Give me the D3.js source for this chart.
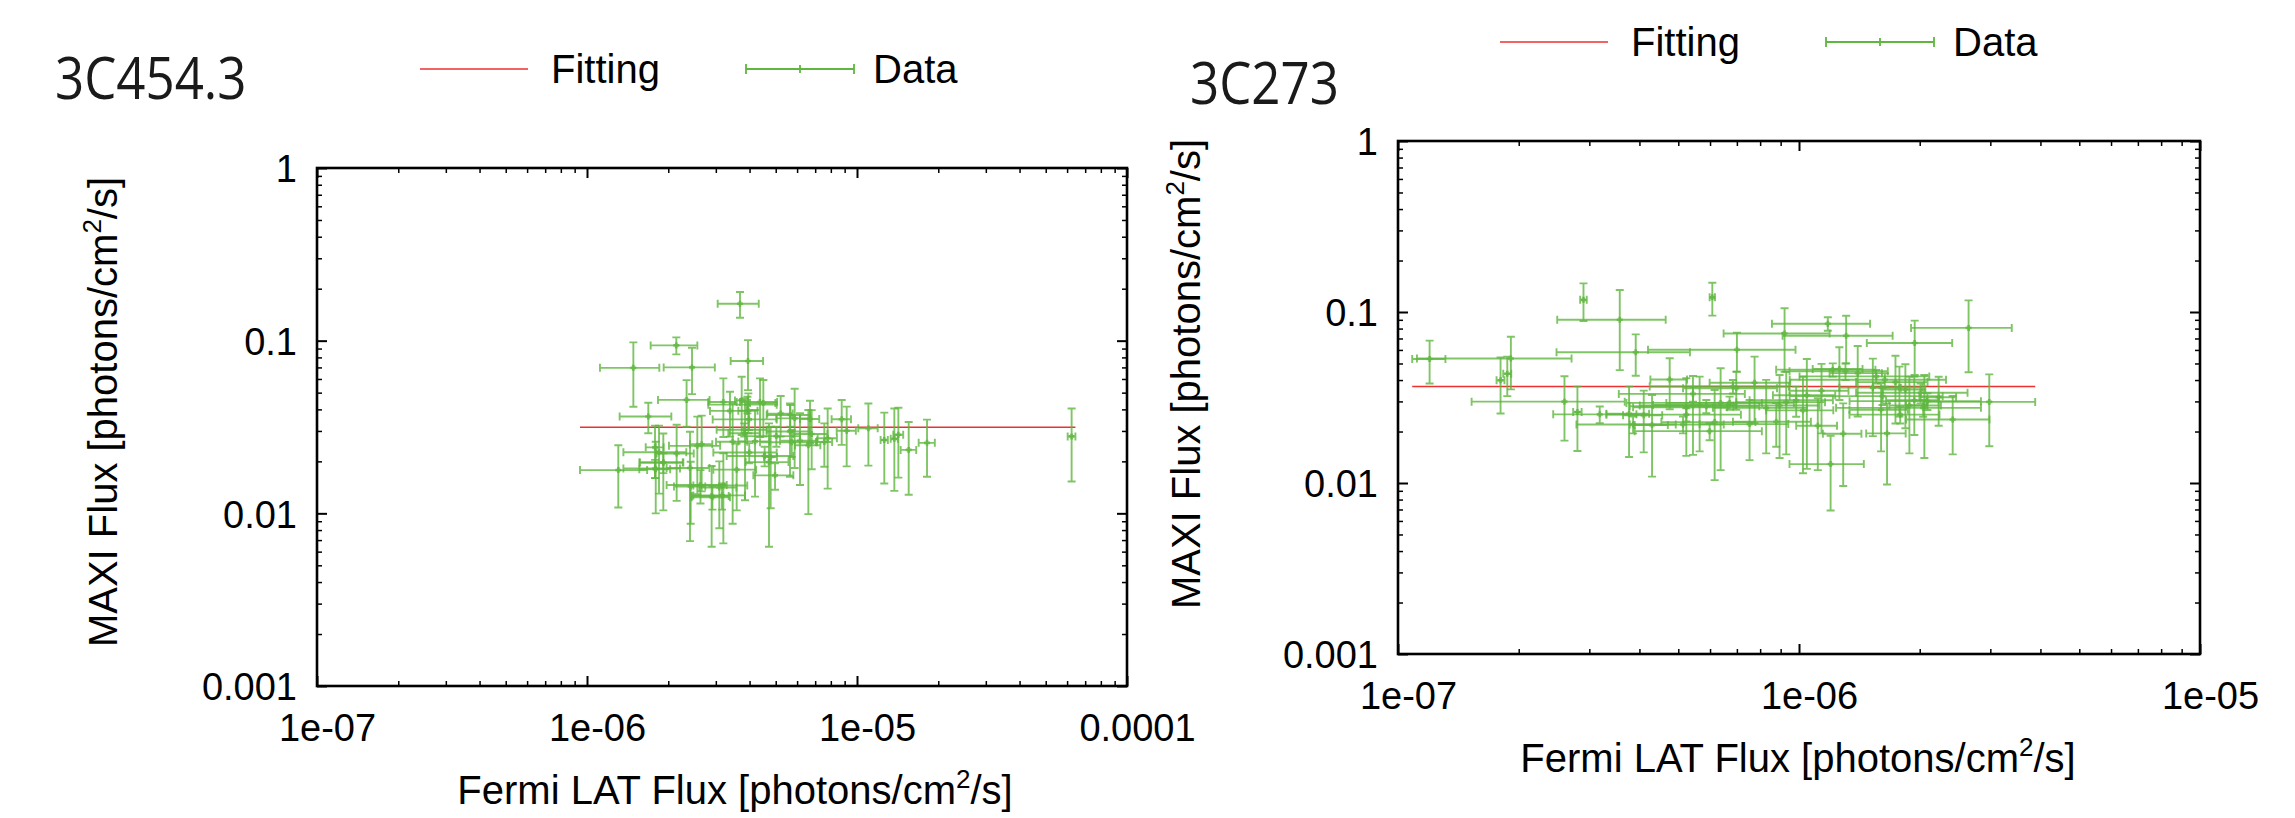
<!DOCTYPE html>
<html><head><meta charset="utf-8">
<script src="https://cdn.jsdelivr.net/npm/d3@7"></script>
<style>body{margin:0;background:#fff}svg{display:block}</style>
</head><body>
<svg id="c" width="2295" height="818"></svg>
<script>
// ---------- DATA : 3C454.3 (Fermi LAT flux vs MAXI flux, photons/cm2/s) ----------
const lX = [1.485e-6,1.687e-6,1.306e-6,1.786e-6,1.848e-6,1.797e-6,1.917e-6,2.148e-6,2.338e-6,2.449e-6,2.142e-6,2.407e-6,2.421e-6,2.562e-6,2.659e-6,2.895e-6,3.091e-6,3.199e-6,3.199e-6,3.385e-6,3.463e-6,3.584e-6,3.740e-6,3.848e-6,3.958e-6,4.191e-6,4.373e-6,4.499e-6,4.721e-6,4.789e-6,5.215e-6,5.647e-6,5.875e-6,6.150e-6,6.605e-6,6.698e-6,6.794e-6,7.568e-6,7.787e-6,8.777e-6,9.158e-6,3.687e-6,3.947e-6,1.102e-5,1.262e-5,1.375e-5,1.423e-5,1.554e-5,1.817e-5,6.235e-5,3.981e-6,3.928e-6,3.825e-6,5.027e-6,3.989e-6,4.550e-6,2.632e-6,3.162e-6,4.971e-6,5.731e-6,1.787e-6,1.918e-6,5.664e-6,2.914e-6];
const lXerr = [0.368e-6,0.366e-6,0.364e-6,0.136e-6,0.484e-6,0.235e-6,0.346e-6,0.337e-6,0.506e-6,0.526e-6,0.421e-6,0.435e-6,0.321e-6,0.550e-6,0.252e-6,0.453e-6,0.485e-6,0.385e-6,0.723e-6,0.530e-6,0.458e-6,0.647e-6,0.208e-6,0.510e-6,0.323e-6,0.556e-6,0.686e-6,0.484e-6,0.852e-6,0.265e-6,0.560e-6,1.018e-6,0.850e-6,0.964e-6,0.712e-6,0.548e-6,0.984e-6,0.520e-6,0.637e-6,0.723e-6,0.746e-6,0.639e-6,0.542e-6,0.91e-6,0.39e-6,0.42e-6,0.60e-6,1.03e-6,1.25e-6,2.06e-6,1.060e-6,1.114e-6,0.804e-6,1.124e-6,1.052e-6,1.260e-6,0.660e-6,0.686e-6,0.840e-6,1.358e-6,0.423e-6,0.356e-6,1.035e-6,0.472e-6];
const lY = [0.0696,0.0364,0.0178,0.0241,0.0226,0.0180,0.0197,0.0222,0.0454,0.0700,0.0939,0.0183,0.0143,0.0246,0.0251,0.0126,0.0141,0.0441,0.0145,0.0392,0.0260,0.0179,0.0451,0.0291,0.0393,0.0261,0.0441,0.0435,0.0198,0.0212,0.0378,0.0298,0.0355,0.0263,0.0248,0.0352,0.0288,0.0259,0.0272,0.0351,0.0301,0.1635,0.0762,0.0311,0.0266,0.0270,0.0285,0.0233,0.0256,0.0279,0.0350,0.0426,0.0305,0.0280,0.0225,0.0215,0.0146,0.0127,0.0166,0.0258,0.0182,0.0197,0.0371,0.0124];
const lYerr = [0.0282,0.0073,0.0070,0.0081,0.0096,0.0080,0.0093,0.0104,0.0137,0.0210,0.0106,0.0114,0.0056,0.0117,0.0117,0.0062,0.0059,0.0164,0.0078,0.0114,0.0173,0.0075,0.0167,0.0172,0.0102,0.0136,0.0164,0.0157,0.0134,0.0105,0.0100,0.0135,0.0172,0.0117,0.0149,0.0097,0.0108,0.0073,0.0133,0.0102,0.0114,0.0277,0.0245,0.0122,0.0117,0.0135,0.0124,0.0105,0.0093,0.0126,0.0046,0.0047,0.0027,0.0037,0.0030,0.0028,0.0032,0.0022,0.0029,0.0046,0.0022,0.0026,0.0053,0.0019];
const lFit = 0.0315;

// ---------- DATA : 3C273 ----------
const rX = [1.199e-7,1.912e-7,1.802e-7,1.873e-7,2.901e-7,3.573e-7,3.916e-7,6.079e-7,7.002e-7,9.205e-7,1.180e-6,1.311e-6,1.943e-6,2.648e-6,2.982e-6,2.417e-6,1.199e-6,1.289e-6,1.658e-6,1.740e-6,2.601e-7,2.802e-7,3.857e-7,3.769e-7,4.100e-7,4.301e-7,4.759e-7,5.236e-7,5.440e-7,5.652e-7,6.161e-7,6.376e-7,6.976e-7,7.529e-7,7.748e-7,8.283e-7,8.944e-7,9.293e-7,8.775e-7,1.023e-6,1.046e-6,1.114e-6,1.138e-6,1.261e-6,1.401e-6,1.528e-6,1.602e-6,1.780e-6,1.842e-6,1.885e-6,1.939e-6,2.054e-6,2.230e-6,9.840e-7,3.185e-7,5.986e-7,5.440e-7,6.713e-7,
  2.010e-6,2.090e-6,2.040e-6,1.788e-6,1.615e-6,1.637e-6,1.306e-6,1.558e-6,5.872e-7,5.236e-7,6.843e-7,5.138e-7,1.214e-6];
const rXerr = [0.114e-7,0.797e-7,0.041e-7,0.043e-7,0.055e-7,1.078e-7,1.431e-7,0.093e-7,2.800e-7,2.719e-7,3.24e-7,4.01e-7,4.67e-7,7.45e-7,9.0e-7,5.68e-7,2.52e-7,1.42e-7,1.87e-7,3.52e-7,1.075e-7,0.068e-7,1.071e-7,0.460e-7,0.459e-7,0.408e-7,0.499e-7,1.379e-7,1.432e-7,1.326e-7,1.624e-7,1.707e-7,1.838e-7,1.877e-7,1.762e-7,2.181e-7,2.294e-7,2.317e-7,1.932e-7,1.947e-7,1.852e-7,1.30e-7,1.908e-7,1.79e-7,2.09e-7,2.67e-7,2.66e-7,2.52e-7,2.24e-7,2.05e-7,2.90e-7,2.05e-7,2.34e-7,2.31e-7,0.747e-7,2.093e-7,1.887e-7,3.0e-7,
  6.22e-7,7.53e-7,8.03e-7,4.52e-7,6.67e-7,6.89e-7,3.59e-7,5.55e-7,2.088e-7,1.927e-7,2.60e-7,1.354e-7,3.37e-7];
const rY = [0.0531,0.0535,0.0399,0.0435,0.1178,0.0901,0.0582,0.1218,0.0602,0.0749,0.0854,0.0726,0.0659,0.0807,0.0298,0.0235,0.0129,0.0194,0.0195,0.0389,0.0299,0.0260,0.0220,0.0254,0.0249,0.0218,0.0403,0.0277,0.0284,0.0286,0.0227,0.0294,0.0358,0.0221,0.0386,0.0275,0.0284,0.0297,0.0228,0.0266,0.0326,0.0216,0.0346,0.0464,0.0439,0.0361,0.0268,0.0362,0.0352,0.0284,0.0305,0.0284,0.0317,0.0305,0.0252,0.0201,0.0332,0.0294,
  0.0337,0.0301,0.0275,0.0251,0.0322,0.0402,0.0450,0.0420,0.0281,0.0251,0.0367,0.0220,0.0460];
const rYerr = [0.0149,0.0182,0.0144,0.0113,0.0292,0.0444,0.0158,0.0266,0.0155,0.0302,0.0077,0.0225,0.0231,0.0363,0.0134,0.0088,0.0060,0.0098,0.0097,0.0166,0.0122,0.0106,0.0025,0.0112,0.0098,0.0109,0.0133,0.0133,0.0138,0.0133,0.0123,0.0175,0.0090,0.0085,0.0162,0.0126,0.0144,0.0150,0.0065,0.0152,0.0205,0.0097,0.0151,0.0158,0.0194,0.0173,0.0115,0.0117,0.0143,0.0135,0.0114,0.0144,0.0101,0.0061,0.0028,0.0023,0.0033,0.0026,
  0.0045,0.0034,0.0031,0.0028,0.0036,0.0036,0.0050,0.0038,0.0025,0.0022,0.0033,0.0025,0.0041];
const rFit = 0.0367;

// ---------- TICKS / TEXT ----------
const yTicks = [0.001, 0.01, 0.1, 1];
const yTickLabels = ["0.001", "0.01", "0.1", "1"];
const lXTicks = [1e-7, 1e-6, 1e-5, 1e-4];
const lXTickLabels = ["1e-07", "1e-06", "1e-05", "0.0001"];
const rXTicks = [1e-7, 1e-6, 1e-5];
const rXTickLabels = ["1e-07", "1e-06", "1e-05"];
const legendLabels = ["Fitting", "Data"];
const titles = ["3C454.3", "3C273"];

// ---------- DRAW ----------
const GREEN = "#5fb740", RED = "#ee3030";
const svg = d3.select("#c");
const FONT = "'Liberation Sans', Arial, sans-serif";

function minors(lo, hi) {
  const out = [];
  for (let e = Math.round(Math.log10(lo)); e < Math.round(Math.log10(hi)); e++)
    for (let k = 2; k <= 9; k++) out.push(k * Math.pow(10, e));
  return out;
}

function panel(o) {
  const g = svg.append("g");
  const x = d3.scaleLog().domain(o.xDomain).range([o.x0, o.x1]);
  const y = d3.scaleLog().domain([0.001, 1]).range([o.y1, o.y0]);
  const rows = o.xs.map((v, i) => ({x: v, xe: o.xe[i], y: o.ys[i], ye: o.ye[i]}));

  // fit line over the data extent
  const xmin = d3.min(rows, d => d.x - d.xe), xmax = d3.max(rows, d => d.x + d.xe);
  g.append("line").attr("x1", x(xmin)).attr("x2", x(xmax))
    .attr("y1", y(o.fit)).attr("y2", y(o.fit))
    .attr("stroke", RED).attr("stroke-width", 1.6);

  // error bars
  const cap = 4;
  const eb = g.append("g").attr("stroke", GREEN).attr("stroke-width", 1.9)
    .attr("stroke-opacity", 0.8).attr("fill", "none");
  rows.forEach(d => {
    const cx = x(d.x), cy = y(d.y);
    const xl = x(d.x - d.xe), xr = x(d.x + d.xe);
    const yt = y(d.y + d.ye), yb = y(d.y - d.ye);
    const p = `M${xl},${cy}H${xr}M${xl},${cy-cap}V${cy+cap}M${xr},${cy-cap}V${cy+cap}` +
              `M${cx},${yt}V${yb}M${cx-cap},${yt}H${cx+cap}M${cx-cap},${yb}H${cx+cap}`;
    eb.append("path").attr("d", p);
    eb.append("path").attr("d", `M${cx-3},${cy}H${cx+3}M${cx},${cy-3}V${cy+3}`)
      .attr("stroke-width", 2.6);
  });

  // axes: ticks inward on all four sides
  const xmin2 = minors(o.xDomain[0], o.xDomain[1]);
  const ymin2 = minors(0.001, 1);
  const styleAxis = (sel, w) => {
    sel.select(".domain").remove();
    sel.selectAll(".tick line").attr("stroke", "#000").attr("stroke-width", w);
  };
  const bottom = g.append("g").attr("transform", `translate(0,${o.y1})`)
    .call(d3.axisBottom(x).tickValues(o.xTicks).tickSize(-10)
      .tickFormat((d, i) => o.xTickLabels[i]));
  styleAxis(bottom, 2);
  bottom.selectAll(".tick text").attr("y", 55).attr("dy", 0).attr("dx", 10)
    .attr("font-family", FONT).attr("font-size", 38).attr("fill", "#000");
  styleAxis(g.append("g").attr("transform", `translate(0,${o.y1})`)
    .call(d3.axisBottom(x).tickValues(xmin2).tickSize(-5).tickFormat("")), 1.5);
  styleAxis(g.append("g").attr("transform", `translate(0,${o.y0})`)
    .call(d3.axisTop(x).tickValues(o.xTicks).tickSize(-10).tickFormat("")), 2);
  styleAxis(g.append("g").attr("transform", `translate(0,${o.y0})`)
    .call(d3.axisTop(x).tickValues(xmin2).tickSize(-5).tickFormat("")), 1.5);

  const left = g.append("g").attr("transform", `translate(${o.x0},0)`)
    .call(d3.axisLeft(y).tickValues(yTicks).tickSize(-10)
      .tickFormat((d, i) => yTickLabels[i]));
  styleAxis(left, 2);
  left.selectAll(".tick text").attr("x", -20).attr("dy", "0.36em")
    .attr("font-family", FONT).attr("font-size", 38).attr("fill", "#000");
  styleAxis(g.append("g").attr("transform", `translate(${o.x0},0)`)
    .call(d3.axisLeft(y).tickValues(ymin2).tickSize(-5).tickFormat("")), 1.5);
  styleAxis(g.append("g").attr("transform", `translate(${o.x1},0)`)
    .call(d3.axisRight(y).tickValues(yTicks).tickSize(-10).tickFormat("")), 2);
  styleAxis(g.append("g").attr("transform", `translate(${o.x1},0)`)
    .call(d3.axisRight(y).tickValues(ymin2).tickSize(-5).tickFormat("")), 1.5);

  g.append("rect").attr("x", o.x0).attr("y", o.y0)
    .attr("width", o.x1 - o.x0).attr("height", o.y1 - o.y0)
    .attr("fill", "none").attr("stroke", "#000").attr("stroke-width", 2.6);

  // axis titles
  const xt = g.append("text").attr("x", o.xtX).attr("y", o.xtY)
    .attr("text-anchor", "middle").attr("font-family", FONT).attr("font-size", 40);
  xt.append("tspan").text("Fermi LAT Flux [photons/cm");
  xt.append("tspan").text("2").attr("font-size", 26).attr("dy", -16);
  xt.append("tspan").text("/s]").attr("dy", 16);

  const yt = g.append("text").attr("transform", `translate(${o.ytX},${o.ytY}) rotate(-90)`)
    .attr("text-anchor", "middle").attr("font-family", FONT).attr("font-size", 40);
  yt.append("tspan").text("MAXI Flux [photons/cm");
  yt.append("tspan").text("2").attr("font-size", 26).attr("dy", -16);
  yt.append("tspan").text("/s]").attr("dy", 16);

  // panel title
  g.append("text").attr("transform", `translate(${o.titleX},${o.titleY}) scale(0.88,1)`)
    .text(o.title)
    .attr("font-family", "'Open Sans', 'Noto Sans', sans-serif").attr("font-weight", 400)
    .attr("font-size", 58).attr("fill", "#1a1a1a");

  // legend
  const ly = o.legY;
  g.append("line").attr("x1", o.legX).attr("x2", o.legX + 108).attr("y1", ly).attr("y2", ly)
    .attr("stroke", RED).attr("stroke-width", 1.6);
  g.append("text").attr("x", o.legX + 131).attr("y", ly + 14).text(legendLabels[0])
    .attr("font-family", FONT).attr("font-size", 40);
  const dx0 = o.legX + 326;
  g.append("path").attr("d",
      `M${dx0},${ly}H${dx0+108}M${dx0},${ly-5}V${ly+5}M${dx0+108},${ly-5}V${ly+5}M${dx0+54},${ly-4}V${ly+4}`)
    .attr("stroke", GREEN).attr("stroke-width", 1.8).attr("fill", "none");
  g.append("text").attr("x", dx0 + 127).attr("y", ly + 14).text(legendLabels[1])
    .attr("font-family", FONT).attr("font-size", 40);
}

panel({x0: 317, x1: 1127, y0: 168, y1: 686, xDomain: [1e-7, 1e-4],
  xs: lX, xe: lXerr, ys: lY, ye: lYerr, fit: lFit,
  xTicks: lXTicks, xTickLabels: lXTickLabels,
  xtX: 735, xtY: 804, ytX: 117, ytY: 412,
  title: titles[0], titleX: 55, titleY: 99, legX: 420, legY: 69});

panel({x0: 1398, x1: 2200, y0: 141, y1: 654, xDomain: [1e-7, 1e-5],
  xs: rX, xe: rXerr, ys: rY, ye: rYerr, fit: rFit,
  xTicks: rXTicks, xTickLabels: rXTickLabels,
  xtX: 1798, xtY: 772, ytX: 1200, ytY: 374,
  title: titles[1], titleX: 1190, titleY: 104, legX: 1500, legY: 42});
</script></body></html>
